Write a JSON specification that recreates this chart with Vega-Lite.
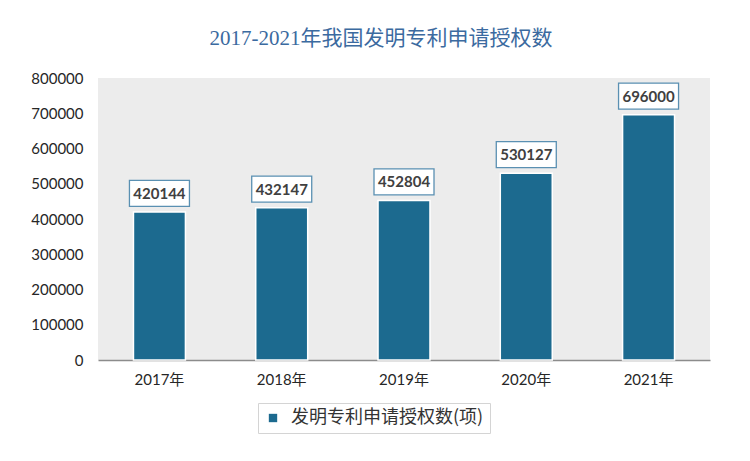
{
  "$schema": "https://vega.github.io/schema/vega-lite/v6.json",
  "autosize": {"type": "none"},
  "width": 612,
  "height": 282,
  "padding": {"left": 98, "top": 78, "right": 40, "bottom": 101},
  "background": "#ffffff",
  "title": {
    "text": "2017-2021年我国发明专利申请授权数",
    "font": "Liberation Serif, Noto Sans CJK SC",
    "fontSize": 21,
    "fontWeight": "normal",
    "color": "#3b6aa0",
    "anchor": "middle",
    "dx": -23,
    "offset": 22
  },
  "data": {
    "values": [
      {"year": "2017年", "value": 420144, "series": "发明专利申请授权数(项)"},
      {"year": "2018年", "value": 432147, "series": "发明专利申请授权数(项)"},
      {"year": "2019年", "value": 452804, "series": "发明专利申请授权数(项)"},
      {"year": "2020年", "value": 530127, "series": "发明专利申请授权数(项)"},
      {"year": "2021年", "value": 696000, "series": "发明专利申请授权数(项)"}
    ]
  },
  "encoding": {
    "x": {
      "field": "year",
      "type": "nominal",
      "sort": null,
      "scale": {"paddingInner": 0.575, "paddingOuter": 0.29},
      "axis": {
        "title": null,
        "labelAngle": 0,
        "labelFont": "Lato, Noto Sans CJK SC",
        "labelFontSize": 15,
        "labelColor": "#262626",
        "labelPadding": 12,
        "ticks": false,
        "domainColor": "#8c8c8c",
        "domainWidth": 1.5
      }
    },
    "y": {
      "field": "value",
      "type": "quantitative",
      "scale": {"domain": [0, 800000], "nice": false},
      "axis": {
        "title": null,
        "values": [0, 100000, 200000, 300000, 400000, 500000, 600000, 700000, 800000],
        "format": "d",
        "labelFont": "Lato",
        "labelFontSize": 15,
        "labelColor": "#262626",
        "labelPadding": 15,
        "ticks": false,
        "domain": false,
        "grid": false
      }
    }
  },
  "layer": [
    {
      "mark": {"type": "bar", "stroke": "#ffffff", "strokeWidth": 1.5},
      "encoding": {
        "color": {
          "field": "series",
          "type": "nominal",
          "scale": {"range": ["#1c6a8f"]},
          "legend": {
            "title": null,
            "orient": "none",
            "legendX": 160,
            "legendY": 325,
            "direction": "horizontal",
            "symbolType": "square",
            "symbolSize": 70,
            "symbolStrokeWidth": 0,
            "labelFont": "Noto Sans CJK SC",
            "labelFontSize": 18,
            "labelLimit": 0,
            "labelColor": "#333333",
            "labelOffset": 9,
            "strokeColor": "#d4d4d4",
            "fillColor": "#ffffff",
            "padding": 6,
            "offset": 0
          }
        }
      }
    },
    {
      "mark": {
        "type": "point",
        "shape": "M-1,-0.433L1,-0.433L1,0.433L-1,0.433Z",
        "size": 3600,
        "filled": true,
        "fill": "#ffffff",
        "stroke": "#5a90b2",
        "strokeWidth": 1.3,
        "opacity": 1,
        "yOffset": -18.5
      }
    },
    {
      "mark": {
        "type": "text",
        "font": "Lato",
        "fontSize": 15,
        "fontWeight": "bold",
        "color": "#404040",
        "baseline": "middle",
        "yOffset": -18
      },
      "encoding": {"text": {"field": "value", "type": "quantitative", "format": "d"}}
    }
  ],
  "config": {
    "view": {"fill": "#ececec", "stroke": null}
  }
}
